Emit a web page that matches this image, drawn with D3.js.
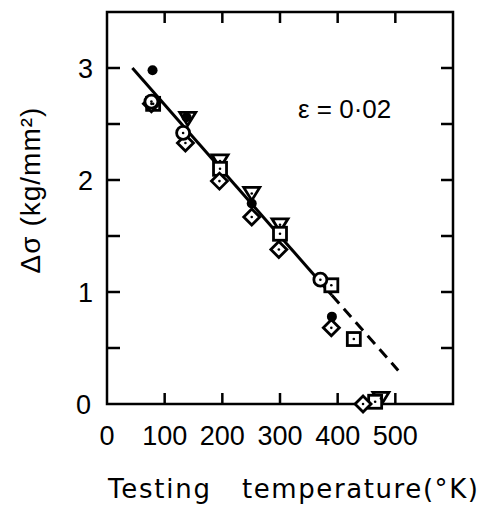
<!DOCTYPE html>
<html><head><meta charset="utf-8">
<script src="https://cdn.jsdelivr.net/npm/d3@7"></script>
<style>body{margin:0;background:#fff}svg text{font-family:"Liberation Sans",Arial,sans-serif;fill:#000}</style>
</head><body><svg id="c" width="488" height="507"></svg>
<script>
const xTicks = [0,100,200,300,400,500];
const yTicks = [0,1,2,3];
const filledCircles = [[79,2.98],[138,2.56],[251,1.79],[390,0.78]];
const openCircles = [[77,2.70],[132,2.42],[370,1.11]];
const squares = [[80,2.68],[196,2.10],[300,1.52],[389,1.06],[428,0.58],[465,0.02]];
const diamonds = [[77,2.68],[136,2.33],[195,1.99],[251,1.67],[298,1.38],[389,0.68],[444,0.0]];
const triangles = [[140,2.55],[196,2.17],[251,1.88],[300,1.60],[475,0.05]];
const fitSolid = [[44,3.0],[390,0.97]];
const fitDashed = [[390,0.97],[505,0.30]];

const svg = d3.select("#c");
const x = d3.scaleLinear().domain([0,600]).range([107,453]);
const y = d3.scaleLinear().domain([0,3.5]).range([404,12]);

// frame
svg.append("rect").attr("x",x(0)).attr("y",y(3.5)).attr("width",x(600)-x(0)).attr("height",y(0)-y(3.5))
  .attr("fill","none").attr("stroke","#000").attr("stroke-width",2.5);

// inward ticks
const xt = d3.range(100,600,100);
const yt = d3.range(0.5,3.5,0.5);
const tl = 11;
xt.forEach(v=>{
  svg.append("line").attr("x1",x(v)).attr("x2",x(v)).attr("y1",y(0)).attr("y2",y(0)-tl).attr("stroke","#000").attr("stroke-width",2.5);
  svg.append("line").attr("x1",x(v)).attr("x2",x(v)).attr("y1",y(3.5)).attr("y2",y(3.5)+tl).attr("stroke","#000").attr("stroke-width",2.5);
});
yt.forEach(v=>{
  svg.append("line").attr("x1",x(0)).attr("x2",x(0)+13).attr("y1",y(v)).attr("y2",y(v)).attr("stroke","#000").attr("stroke-width",2.5);
  svg.append("line").attr("x1",x(600)).attr("x2",x(600)-12).attr("y1",y(v)).attr("y2",y(v)).attr("stroke","#000").attr("stroke-width",2.5);
});

// tick labels
svg.selectAll(".xl").data(xTicks).enter().append("text")
  .attr("x",d=>x(d)).attr("y",445).attr("text-anchor","middle").attr("font-size",27).text(d=>d);
svg.selectAll(".yl").data(yTicks).enter().append("text")
  .attr("x",d=>d===0?91:93).attr("y",d=>y(d)+10).attr("text-anchor","end").attr("font-size",27).text(d=>d);

// axis titles
svg.append("text").attr("x",108).attr("y",498).style("font-family","'DejaVu Sans',sans-serif").attr("font-size",26).attr("textLength",102)
  .attr("lengthAdjust","spacing").text("Testing");
svg.append("text").attr("x",242).attr("y",498).style("font-family","'DejaVu Sans',sans-serif").attr("font-size",26).attr("textLength",236)
  .attr("lengthAdjust","spacing").text("temperature(°K)");
svg.append("text").attr("transform","translate(40,190) rotate(-90)").attr("text-anchor","middle")
  .attr("font-size",28).attr("letter-spacing",1).text("Δσ  (kg/mm²)");

// annotation
svg.append("text").attr("x",298).attr("y",118).attr("font-size",26).text("ε = 0·02");

// fit lines
const line = d3.line().x(d=>x(d[0])).y(d=>y(d[1]));
svg.append("path").attr("d",line(fitSolid)).attr("stroke","#000").attr("stroke-width",3).attr("fill","none");
svg.append("path").attr("d",line(fitDashed)).attr("stroke","#000").attr("stroke-width",3).attr("fill","none").attr("stroke-dasharray","11,7");

const sw = 2.8;
// triangles (inverted)
svg.selectAll(".tri").data(triangles).enter().append("path")
  .attr("transform",d=>`translate(${x(d[0])},${y(d[1])})`)
  .attr("d","M-8,-6 L8,-6 L0,7 Z").attr("fill","#fff").attr("stroke","#000").attr("stroke-width",sw);
// squares
svg.selectAll(".sq").data(squares).enter().append("rect")
  .attr("x",d=>x(d[0])-6.5).attr("y",d=>y(d[1])-6.5).attr("width",13).attr("height",13)
  .attr("fill","#fff").attr("stroke","#000").attr("stroke-width",sw);
// diamonds
svg.selectAll(".dm").data(diamonds).enter().append("path")
  .attr("transform",d=>`translate(${x(d[0])},${y(d[1])})`)
  .attr("d","M0,-8 L8,0 L0,8 L-8,0 Z").attr("fill","#fff").attr("stroke","#000").attr("stroke-width",sw);
// open circles
svg.selectAll(".oc").data(openCircles).enter().append("circle")
  .attr("cx",d=>x(d[0])).attr("cy",d=>y(d[1])).attr("r",6.5)
  .attr("fill","#fff").attr("stroke","#000").attr("stroke-width",sw);
// center dots
[squares,diamonds,openCircles,triangles].forEach(s=>{
  svg.append("g").selectAll("circle").data(s).enter().append("circle")
    .attr("cx",d=>x(d[0])).attr("cy",d=>y(d[1])).attr("r",1.3).attr("fill","#000");
});
// filled circles
svg.selectAll(".fc").data(filledCircles).enter().append("circle")
  .attr("cx",d=>x(d[0])).attr("cy",d=>y(d[1])).attr("r",5).attr("fill","#000");
</script></body></html>
